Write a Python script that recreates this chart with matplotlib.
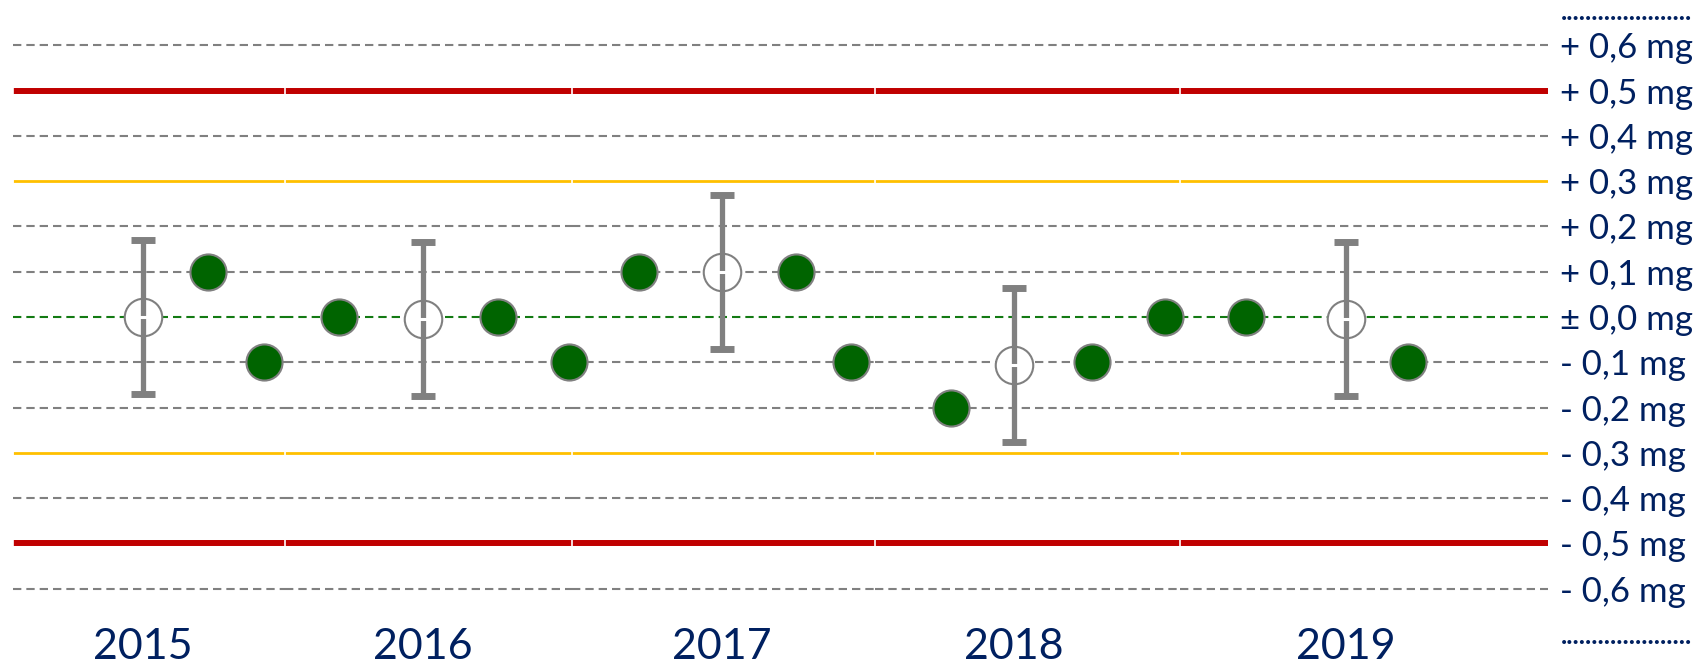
import numpy as np
import matplotlib
matplotlib.use('Agg')
import matplotlib.pyplot as plt

# data
years = ['2015', '2016', '2017', '2018', '2019']
seg_bounds = [0, 2.72, 5.59, 8.62, 11.67, 15.35]
mean_x = [1.30, 4.10, 7.09, 10.01, 13.33]
mean_y = [0.0, -0.005, 0.10, -0.105, -0.005]
mean_err = [0.17, 0.17, 0.17, 0.17, 0.17]
meas_x = [1.95, 2.51, 3.26, 4.85, 5.56, 6.26, 7.83, 8.38, 9.38, 10.79, 11.52, 12.33, 13.95]
meas_y = [0.1, -0.1, 0.0, 0.0, -0.1, 0.1, 0.1, -0.1, -0.2, -0.1, 0.0, 0.0, -0.1]
grid_y = [0.6, 0.4, 0.2, 0.1, -0.1, -0.2, -0.4, -0.6]
warn_y = [0.3, -0.3]
limit_y = [0.5, -0.5]
tick_vals = [0.7, 0.6, 0.5, 0.4, 0.3, 0.2, 0.1, 0.0, -0.1, -0.2, -0.3, -0.4, -0.5, -0.6, -0.7]
tick_labels = ['.' * 21, '+ 0,6 mg', '+ 0,5 mg', '+ 0,4 mg', '+ 0,3 mg', '+ 0,2 mg', '+ 0,1 mg',
               '\u00b1 0,0 mg', '- 0,1 mg', '- 0,2 mg', '- 0,3 mg', '- 0,4 mg', '- 0,5 mg',
               '- 0,6 mg', '.' * 21]

navy = '#002060'
gray = '#808080'

plt.rcParams['lines.scale_dashes'] = False

fig = plt.figure(figsize=(17, 6.67), dpi=100)
ax = fig.add_axes([13 / 1700, 33 / 667, 1535 / 1700, 634 / 667])
ax.set_xlim(seg_bounds[0], seg_bounds[-1])
ax.set_ylim(-0.7, 0.7)

# reference lines, drawn per year segment
for y in grid_y:
    ax.hlines([y] * 5, seg_bounds[:-1], seg_bounds[1:], colors=gray, lw=1.5,
              linestyles=(0, (6, 3.6)), zorder=1)
ax.hlines([0.0] * 5, seg_bounds[:-1], seg_bounds[1:], colors='#137a13', lw=1.5,
          linestyles=(0, (6, 3.6)), zorder=1)
for y in warn_y:
    ax.hlines([y] * 5, seg_bounds[:-1], seg_bounds[1:], colors='#ffc000', lw=2, zorder=1)
for y in limit_y:
    ax.hlines([y] * 5, seg_bounds[:-1], seg_bounds[1:], colors='#c00000', lw=4.3, zorder=1)
for y in limit_y:
    ax.vlines(seg_bounds[:-1], y - 0.014, y + 0.01, colors='white', lw=1.2, zorder=2)
for y in warn_y:
    ax.vlines(seg_bounds[:-1], y - 0.008, y + 0.008, colors='white', lw=1.2, zorder=2)

# yearly mean with error bar
ax.plot(mean_x, mean_y, 'o', ms=27, mfc='white', mec=gray, mew=1.5, zorder=3)
ax.errorbar(mean_x, mean_y, yerr=mean_err, fmt='none', ecolor=gray, elinewidth=3.8,
            capsize=8.5, capthick=5, zorder=4)
ax.plot(mean_x, mean_y, '_', ms=6, mec='white', mew=2.2, zorder=5)

# single measurements
ax.plot(meas_x, meas_y, 'o', ms=26, mfc='#006400', mec=gray, mew=1.5, zorder=6)

ax.yaxis.tick_right()
ax.set_yticks(tick_vals)
labels = ax.set_yticklabels(tick_labels, family='Lato', fontsize=25, color=navy)
labels[0].set_fontsize(19)
labels[0].set_fontweight('bold')
labels[0].set_va('top')
labels[-1].set_fontsize(19)
labels[-1].set_fontweight('bold')
ax.tick_params(axis='y', length=0, pad=9)
ax.set_xticks(mean_x)
ax.set_xticklabels(years, family='Lato', fontsize=31, color=navy)
ax.tick_params(axis='x', length=0, pad=-4)
for s in ax.spines.values():
    s.set_visible(False)

fig.savefig('out.png', dpi=100)
